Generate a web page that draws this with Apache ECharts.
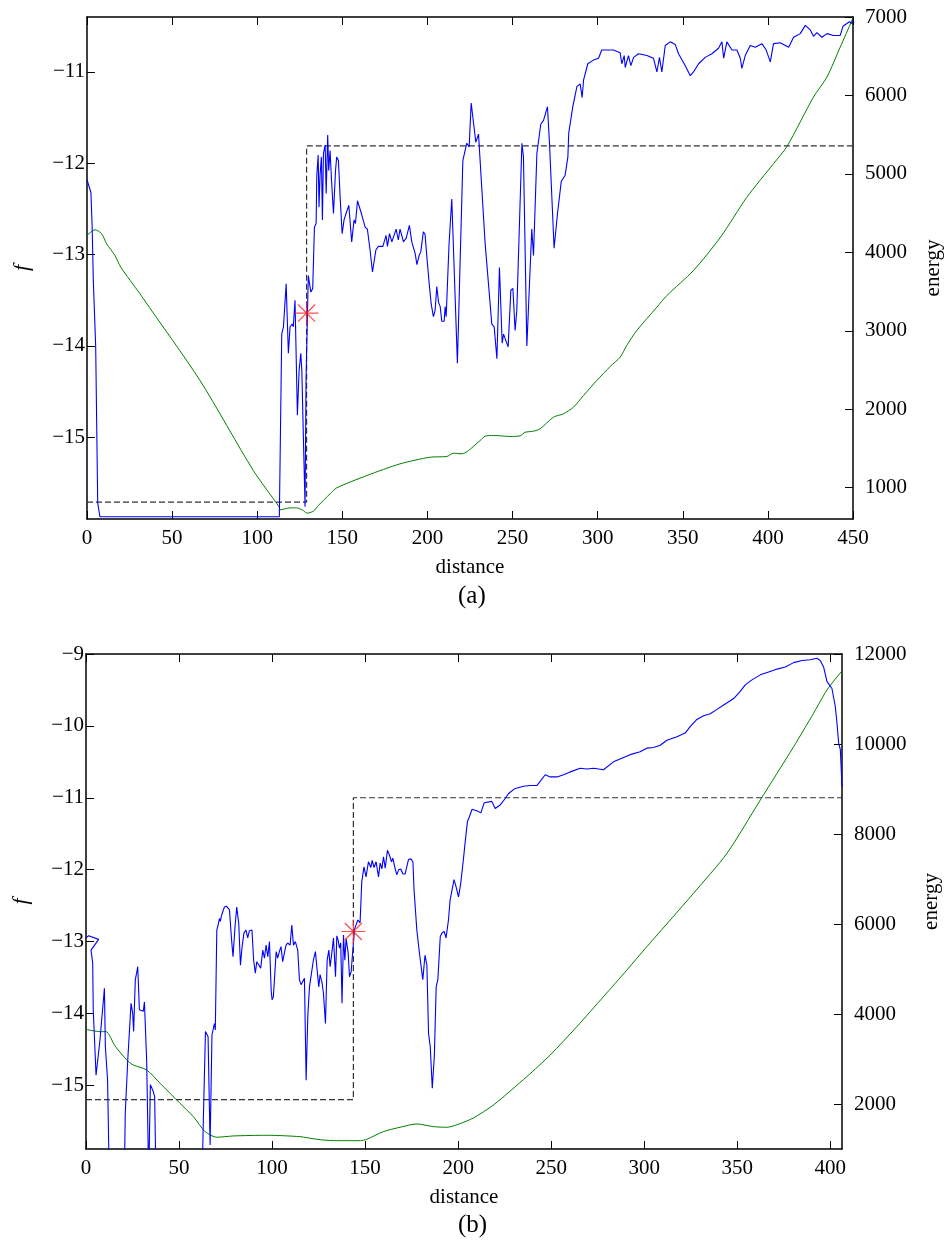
<!DOCTYPE html>
<html>
<head>
<meta charset="utf-8">
<script src="https://cdn.jsdelivr.net/npm/echarts@6/dist/echarts.min.js"></script>
<style>
  html, body { margin: 0; padding: 0; background: #fff; }
  #main { width: 944px; height: 1243px; }
</style>
</head>
<body>
<div id="main"></div>
<script>
// panel (a): f along the path (blue), energy (green), threshold step (dashed), marked point (star)
var aDist = [0, 2.3, 3, 3.7, 5.1, 6.3, 7.6, 20, 60, 113, 114.4, 115.4, 116.4, 117, 117.7, 118.3, 119.3, 120.5, 121.2, 122.2,
  123.6, 124.6, 125.6, 126.2, 127.3, 128.1, 128.7, 130, 131.5, 132.6, 133.6, 134.6, 135, 135.8, 136.3, 136.9, 137.7, 138.3, 138.9, 139.9,
  140.5, 141.4, 142, 142.8, 143.6, 144.8, 146, 146.7, 147.7, 148.7, 149.9, 151, 152.2, 153.8, 155.5, 156.9, 157.7, 158.9, 160, 161.2,
  163.4, 164.7, 166.3, 167.7, 169.7, 171.2, 172.2, 173.8, 175.7, 176.5, 177.7, 179.1, 181.6, 182.9, 183.9, 185.9, 187.5, 189.4, 190.8, 192.8,
  193.8, 195.1, 196.1, 197.6, 198.6, 200, 201.2, 202.2, 203.5, 204.5, 205.5, 206.5, 207.5, 208.4, 209.8, 210.4, 211, 212.7, 214.3, 217.6,
  220.8, 223.1, 224.5, 225.7, 228.4, 230, 233.9, 237.8, 239.2, 240.8, 242.3, 243.9, 244.7, 247.4, 249, 250.2, 251.5, 252.5, 255.5, 256.4,
  258.4, 259.8, 261.3, 262.3, 264.3, 266.6, 268.2, 270.5, 271.7, 274.4, 276.4, 278.6, 280.9, 282.5, 283, 285.4, 287.8, 289.7, 290.9, 291.7,
  294.2, 297.5, 300.5, 302.4, 305.4, 309.3, 313.2, 314.2, 315.6, 316.2, 318.1, 319.5, 321.1, 324, 328.9, 332.8, 334.8, 336.3, 337.7, 339.7,
  342.6, 345.6, 347.5, 351.4, 354.4, 356.3, 359.3, 363.2, 367.1, 371, 373, 374, 375.9, 378.9, 381.8, 383.8, 384.7, 386.7, 389.6, 392.6,
  396.5, 399, 401.4, 403.3, 407.3, 412.2, 415.1, 419, 422, 424.9, 426.8, 428.8, 431.7, 434.7, 438.6, 442.5, 444.1, 446.4, 448, 449.4, 450];
var aF = [-12.18, -12.32, -12.68, -13.28, -14.0, -15.72, -15.87, -15.87, -15.87, -15.87, -13.87, -13.79, -13.5, -13.32, -13.32, -14.08, -13.79, -13.76, -13.79, -13.5,
  -14.76, -14.27, -14.08, -14.27, -15.14, -15.76, -14.34, -13.23, -13.41, -13.37, -12.7, -12.66, -12.13, -11.91, -12.48, -12.13, -11.93, -12.62, -11.89, -11.8,
  -12.33, -11.69, -12.08, -11.86, -12.17, -12.55, -12.08, -11.93, -11.97, -12.37, -12.77, -12.62, -12.55, -12.46, -12.86, -12.62, -12.66, -12.41, -12.42, -12.55,
  -12.7, -12.72, -12.95, -13.19, -12.95, -12.91, -12.9, -12.91, -12.79, -12.91, -12.77, -12.86, -12.72, -12.84, -12.72, -12.86, -12.82, -12.68, -12.86, -12.99,
  -13.11, -13.01, -12.97, -12.75, -12.78, -13.1, -13.35, -13.54, -13.68, -13.61, -13.35, -13.52, -13.57, -13.73, -13.73, -13.57, -13.68, -12.88, -12.39, -14.19,
  -11.97, -11.78, -11.82, -11.34, -11.77, -11.68, -12.88, -13.76, -13.79, -14.14, -13.14, -13.97, -13.87, -14.01, -13.39, -13.37, -13.83, -13.61, -11.78, -11.93,
  -14.0, -13.39, -12.72, -13.01, -11.89, -11.57, -11.53, -11.38, -11.78, -12.93, -12.55, -12.2, -12.13, -11.93, -11.67, -11.38, -11.16, -11.13, -11.28, -11.09,
  -10.91, -10.87, -10.85, -10.76, -10.76, -10.76, -10.79, -10.91, -10.82, -10.95, -10.82, -10.93, -10.84, -10.8, -10.82, -10.85, -11.0, -10.84, -11.0, -10.71,
  -10.67, -10.7, -10.8, -10.93, -11.04, -11.0, -10.91, -10.84, -10.8, -10.74, -10.67, -10.85, -10.67, -10.76, -10.76, -10.85, -10.96, -10.82, -10.71, -10.73,
  -10.69, -10.76, -10.89, -10.69, -10.68, -10.73, -10.62, -10.58, -10.49, -10.54, -10.61, -10.57, -10.62, -10.58, -10.6, -10.6, -10.5, -10.47, -10.45, -10.47, -10.43];
var aEDist = [0, 4.7, 8.6, 11.5, 16.4, 19.8, 31.1, 33.1, 66.4, 97.7, 113, 113.4, 119.3, 123.2, 127.1, 129.1, 133, 135.9, 142.8, 146.7,
  164.4, 183.9, 201.6, 211.4, 215.3, 220.2, 231, 233.9, 238.8, 248.6, 254.5, 257.4, 262.3, 266.2, 274, 279.9, 285.8, 291.7, 299.5, 307.4,
  313.2, 317.1, 323, 334.8, 340.7, 356.3, 372.2, 387.7, 403.3, 411.2, 426.8, 434.7, 442.5, 449.4, 450];
var aEnergy = [4216, 4288, 4237, 4110, 3960, 3811, 3472, 3408, 2366, 1218, 750, 717, 742, 742, 708, 674, 699, 772, 921, 997,
  1154, 1303, 1388, 1397, 1439, 1431, 1601, 1656, 1665, 1652, 1661, 1706, 1719, 1750, 1898, 1941, 2026, 2175, 2366, 2545,
  2663, 2813, 3004, 3301, 3450, 3769, 4194, 4704, 5130, 5349, 5980, 6235, 6617, 6958, 7000];
var aStepDist = [0, 129, 129, 450];
var aStepF = [-15.71, -15.71, -11.81, -11.81];
var aStar = [129, -13.64];
var aDistTicks = [0, 50, 100, 150, 200, 250, 300, 350, 400, 450];
var aFTicks = [-15, -14, -13, -12, -11];
var aEnergyTicks = [1000, 2000, 3000, 4000, 5000, 6000, 7000];

// panel (b)
var bDist = [0, 1.4, 6.8, 2.7, 3.6, 3.9, 4.7, 5.4, 7.5, 9.9, 10.4, 11.1, 11.6, 12.5, 20.6, 21.1, 21.9, 22.4, 24.2, 25.1,
  25.6, 26.5, 27.2, 27.8, 28.7, 29.6, 30.8, 31.4, 31.9, 32.6, 33.7, 34.6, 35.5, 36.2, 36.9, 37.6, 62.4, 63.1, 64.2, 64.9,
  65.6, 66.7, 67.7, 69, 69.5, 70.3, 71, 71.7, 72.2, 72.9, 74.4, 75.6, 77.1, 78.1, 79, 80.1, 81, 82.1, 83, 83.9,
  84.9, 86, 86.9, 87.8, 89.2, 90.1, 91, 91.8, 92.8, 93.9, 95, 95.9, 96.8, 97.7, 98.6, 99.5, 100, 100.7, 102.2, 103,
  103.9, 104.8, 105.7, 106.6, 107.5, 108.4, 109.7, 110.6, 111.5, 112.5, 113.8, 114.7, 115.6, 116.5, 117.4, 118.3, 119.2, 120.1, 121.1, 122.2,
  123.3, 124.2, 125.1, 125.8, 126.9, 127.6, 128.7, 129.6, 130.5, 131.2, 132.3, 133, 134.1, 134.8, 135.5, 136.2, 136.9, 137.6, 138.4, 139.1,
  139.8, 140.9, 141.6, 142.5, 143.4, 144.4, 146.1, 147.3, 148.2, 149.4, 150.5, 151.8, 153.1, 153.8, 154.8, 155.9, 157.2, 158.1, 159, 159.9,
  160.8, 162, 163.1, 164.2, 164.9, 165.9, 167, 168.1, 169.2, 170.3, 171.5, 172.4, 173.3, 174.6, 175.7, 176.3, 177.8, 179.2, 181, 182.2,
  183.2, 184.1, 185, 186.1, 187.2, 188.2, 189.1, 190.4, 191.3, 192.5, 193.5, 194.8, 195.7, 196.6, 197.8, 198.9, 200.2, 201.4, 202.9, 203.8,
  205, 206.1, 207.5, 210, 212.2, 214, 218.1, 219.9, 222.6, 225.3, 227.1, 230.7, 235.1, 238.7, 242.3, 246.8, 249.5, 253.1, 256.7, 260.2,
  265.6, 269.2, 272.8, 278.1, 283.5, 288.9, 292.5, 297.8, 301.4, 305, 308.6, 312.2, 317.6, 322, 324.7, 328.3, 331.9, 335.5, 339.1, 342.7,
  348.1, 351.6, 354.3, 357.9, 362.4, 366.9, 371.4, 375.8, 380.3, 384.8, 389.2, 392.8, 394.6, 396.4, 398.2, 400.9, 402.7, 403.6, 404.5, 405.4, 406.3];
var bF = [-12.95, -12.92, -12.97, -13.12, -13.3, -13.95, -13.95, -14.86, -14.37, -13.65, -14.46, -14.46, -14.93, -16.3, -16.3, -15.39, -15.39, -14.67, -13.86, -14.0,
  -14.25, -13.53, -13.44, -13.35, -13.95, -13.97, -13.97, -13.84, -13.84, -14.65, -16.3, -14.99, -14.99, -15.09, -15.16, -16.3, -16.3, -15.44, -14.25, -14.23,
  -14.32, -15.83, -14.3, -14.14, -14.23, -12.84, -12.77, -12.68, -12.72, -12.63, -12.52, -12.51, -12.56, -12.93, -13.21, -12.79, -12.52, -12.75, -13.33, -13.07,
  -12.88, -12.84, -12.95, -12.85, -12.84, -13.26, -13.44, -13.28, -13.3, -13.37, -13.12, -13.23, -13.05, -13.21, -13.0, -13.67, -13.81, -13.77, -13.14, -13.23,
  -13.14, -13.07, -13.28, -13.16, -13.05, -13.02, -13.05, -12.77, -13.05, -13.0, -13.12, -13.53, -13.6, -13.6, -13.51, -14.93, -14.04, -13.63, -13.61, -13.26,
  -13.14, -13.39, -13.63, -13.46, -13.58, -13.72, -14.14, -13.26, -13.12, -13.35, -13.12, -12.95, -13.49, -12.92, -12.98, -13.09, -13.02, -13.86, -12.91, -13.26,
  -12.96, -13.16, -13.49, -13.42, -13.12, -12.82, -12.7, -12.74, -12.17, -11.96, -12.1, -11.89, -11.97, -11.87, -11.97, -11.89, -12.1, -11.91, -11.99, -11.82,
  -11.98, -11.73, -11.8, -11.89, -11.84, -11.96, -12.07, -12.0, -11.99, -12.06, -12.06, -12.06, -11.86, -11.85, -11.89, -12.28, -12.84, -13.16, -13.53, -13.19,
  -13.33, -14.28, -14.46, -15.04, -14.6, -13.63, -13.53, -12.93, -12.88, -12.86, -12.95, -12.7, -12.42, -12.42, -12.14, -12.24, -12.38, -12.19, -11.84, -11.61,
  -11.33, -11.26, -11.16, -11.18, -11.21, -11.07, -11.05, -11.15, -11.1, -11.01, -10.94, -10.87, -10.84, -10.83, -10.83, -10.68, -10.71, -10.71, -10.68, -10.64,
  -10.59, -10.6, -10.59, -10.61, -10.5, -10.44, -10.4, -10.36, -10.31, -10.3, -10.27, -10.2, -10.15, -10.1, -10.01, -9.91, -9.86, -9.83, -9.77, -9.71,
  -9.62, -9.52, -9.43, -9.36, -9.29, -9.25, -9.21, -9.18, -9.12, -9.09, -9.08, -9.06, -9.09, -9.18, -9.38, -9.48, -9.73, -9.96, -10.24, -10.33, -10.84];
var bEDist = [0, 7.5, 10.8, 15.6, 21.9, 25.4, 32.6, 39.8, 50.5, 57.7, 64, 70.3, 79.2, 97.1, 115, 124, 133, 147.3, 150.9, 159.8,
  168.8, 177.8, 186.7, 193.9, 201.1, 208.2, 219, 236.9, 249.5, 263.8, 278.1, 290.7, 301.4, 314, 326.5, 344.5, 362.4, 380.3, 391, 398.2, 405.9];
var bEnergy = [3660, 3608, 3608, 3290, 2979, 2868, 2757, 2461, 2016, 1719, 1386, 1261, 1290, 1305, 1274, 1216, 1185, 1185, 1216, 1386,
  1483, 1557, 1497, 1483, 1565, 1690, 1979, 2608, 3090, 3719, 4385, 4978, 5496, 6089, 6683, 7572, 8756, 9940, 10682, 11200, 11607];
var bStepDist = [0, 143.7, 143.7, 406.3];
var bStepF = [-15.2, -15.2, -11.0, -11.0];
var bStar = [143.7, -12.86];
var bDistTicks = [0, 50, 100, 150, 200, 250, 300, 350, 400];
var bFTicks = [-15, -14, -13, -12, -11, -10, -9];
var bEnergyTicks = [2000, 4000, 6000, 8000, 10000, 12000];

var FONT = 'Liberation Serif';

function zip(xs, ys) {
  var out = [];
  for (var i = 0; i < xs.length; i++) out.push([xs[i], ys[i]]);
  return out;
}

function minusLabel(v) {
  return String(v).replace('-', '\u2212');
}

var frame = { show: true, onZero: false, lineStyle: { color: '#000', width: 1.5 } };
function tick(values) {
  return { show: true, inside: true, length: 8, customValues: values, lineStyle: { color: '#000', width: 1 } };
}
function label(values, margin) {
  return { show: true, margin: margin, customValues: values, fontFamily: FONT, fontSize: 21, color: '#000', formatter: minusLabel };
}

function xAxes(grid, max, ticks) {
  return [{
    type: 'value', gridIndex: grid, position: 'bottom', min: 0, max: max,
    name: 'distance', nameLocation: 'middle', nameGap: 38,
    nameTextStyle: { fontFamily: FONT, fontSize: 21, color: '#000' },
    axisLine: frame, axisTick: tick(ticks), splitLine: { show: false },
    axisLabel: label(ticks, 9)
  }, {
    type: 'value', gridIndex: grid, position: 'top', min: 0, max: max,
    axisLine: frame, axisTick: tick(ticks), splitLine: { show: false }, axisLabel: { show: false }
  }];
}

function yAxes(grid, fMin, fMax, fTicks, eMin, eMax, eTicks, eGap) {
  return [{
    type: 'value', gridIndex: grid, position: 'left', min: fMin, max: fMax,
    name: 'f', nameLocation: 'middle', nameGap: 54, nameRotate: 90,
    nameTextStyle: { fontFamily: FONT, fontStyle: 'italic', fontSize: 22, color: '#000' },
    axisLine: frame, axisTick: tick(fTicks), splitLine: { show: false },
    axisLabel: label(fTicks, 2)
  }, {
    type: 'value', gridIndex: grid, position: 'right', min: eMin, max: eMax,
    name: 'energy', nameLocation: 'middle', nameGap: eGap, nameRotate: 90,
    nameTextStyle: { fontFamily: FONT, fontSize: 21, color: '#000' },
    axisLine: frame, axisTick: tick(eTicks), splitLine: { show: false },
    axisLabel: label(eTicks, 12)
  }];
}

var starPath = 'path://M10,0L10,20M0,10L20,10M2.9,2.9L17.1,17.1M2.9,17.1L17.1,2.9';

function panelSeries(xi, yi, blue, energy, step, star) {
  return [{
    type: 'line', xAxisIndex: xi, yAxisIndex: yi, data: blue, showSymbol: false,
    lineStyle: { color: '#0000ff', width: 1.1 }, z: 3, animation: false
  }, {
    type: 'line', xAxisIndex: xi, yAxisIndex: yi + 1, data: energy, showSymbol: false, smooth: 0.25,
    lineStyle: { color: '#008000', width: 1 }, z: 2, animation: false
  }, {
    type: 'line', xAxisIndex: xi, yAxisIndex: yi, data: step, showSymbol: false,
    lineStyle: { color: '#333', width: 1.2, type: [6, 3] }, z: 2, animation: false
  }, {
    type: 'scatter', xAxisIndex: xi, yAxisIndex: yi, data: [star],
    symbol: starPath, symbolSize: 24,
    itemStyle: { color: 'rgba(0,0,0,0)', borderColor: '#ff2020', borderWidth: 1.2 },
    z: 4, animation: false
  }];
}

var chart = echarts.init(document.getElementById('main'), null, { renderer: 'canvas' });
chart.setOption({
  backgroundColor: '#fff',
  animation: false,
  grid: [
    { left: 87, top: 17, width: 766, height: 502, containLabel: false, outerBoundsMode: 'none' },
    { left: 86, top: 654, width: 756, height: 495, containLabel: false, outerBoundsMode: 'none' }
  ],
  xAxis: xAxes(0, 450, aDistTicks).concat(xAxes(1, 406.3, bDistTicks)),
  yAxis: yAxes(0, -15.895, -10.398, aFTicks, 600, 7000, aEnergyTicks, 70)
    .concat(yAxes(1, -15.886, -9, bFTicks, 1000, 12000, bEnergyTicks, 79)),
  graphic: [
    { type: 'text', left: 458, top: 584, style: { text: '(a)', font: '25px "Liberation Serif"', fill: '#000' } },
    { type: 'text', left: 458, top: 1213, style: { text: '(b)', font: '25px "Liberation Serif"', fill: '#000' } }
  ],
  series: panelSeries(0, 0, zip(aDist, aF), zip(aEDist, aEnergy), zip(aStepDist, aStepF), aStar)
    .concat(panelSeries(2, 2, zip(bDist, bF), zip(bEDist, bEnergy), zip(bStepDist, bStepF), bStar))
});
</script>
</body>
</html>
